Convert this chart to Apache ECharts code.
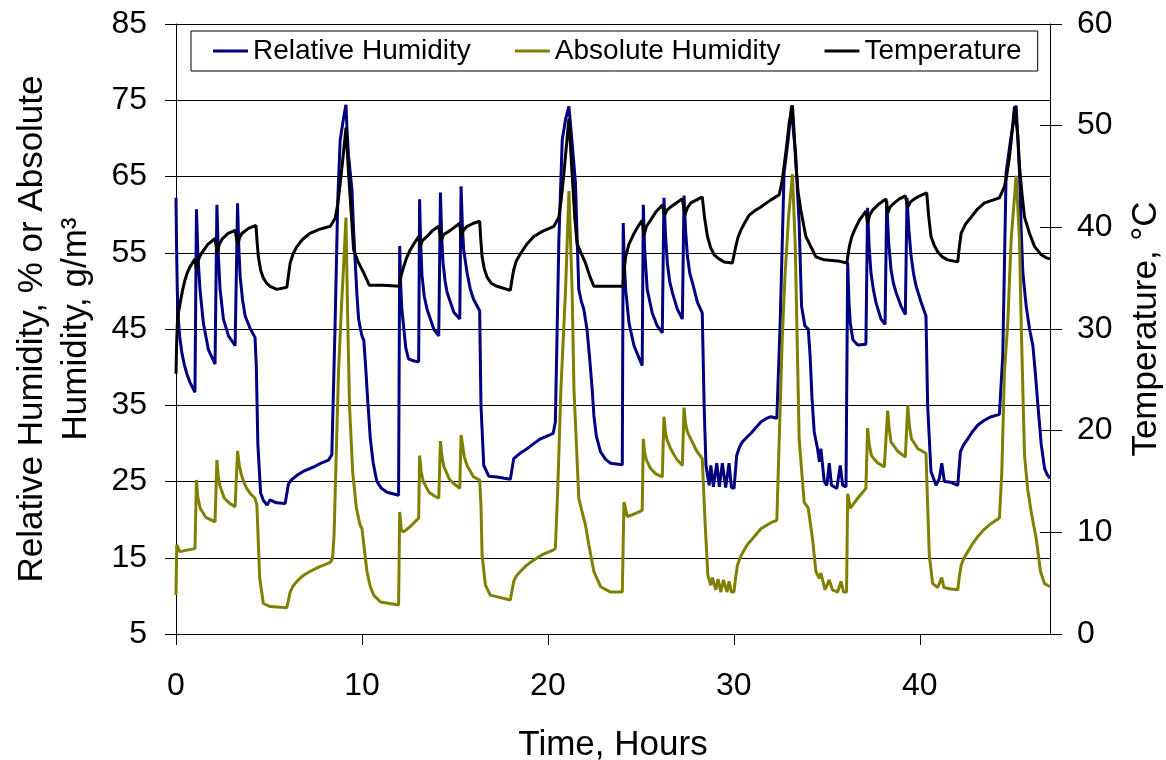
<!DOCTYPE html>
<html>
<head>
<meta charset="utf-8">
<title>Humidity and Temperature</title>
<script src="https://cdn.jsdelivr.net/npm/echarts@6.0.0/dist/echarts.min.js"></script>
<style>
  html, body { margin: 0; padding: 0; background: #fff; }
  #chart { width: 1166px; height: 760px; }
</style>
</head>
<body>
<div id="chart"></div>
<script>
// values: [hours, value]
const relativeHumidity = [
  [0, 62.2], [0.03, 56], [0.07, 50], [0.12, 46.5], [0.2, 44], [0.32, 41.8], [0.45, 40.3], [0.6, 39], [0.75, 38], [1.02, 36.7],
  [1.1, 60.7], [1.18, 54.5], [1.29, 50.2], [1.47, 45.8], [1.74, 42.3], [2.1, 40.4],
  [2.2, 61.3], [2.28, 54.5], [2.37, 50.2], [2.55, 46.3], [2.82, 44.1], [3.18, 42.8],
  [3.31, 61.5], [3.38, 55.5], [3.45, 51.9], [3.58, 48.8], [3.72, 46.7], [4.0, 45], [4.25, 43.9],
  [4.32, 40], [4.4, 30], [4.55, 23.5], [4.7, 22.5], [4.9, 21.9], [5.06, 22.6], [5.4, 22.2], [5.87, 22.1],
  [6.05, 24.7], [6.2, 25.2], [6.5, 25.8], [6.9, 26.4], [7.4, 26.9], [7.8, 27.4], [8.2, 27.8], [8.38, 28.5],
  [8.55, 45], [8.7, 62], [8.83, 69.8], [9.0, 72.5], [9.14, 74.4], [9.2, 71], [9.28, 67.7], [9.37, 65.5], [9.46, 63.3],
  [9.55, 58], [9.64, 53.7], [9.73, 49.5], [9.82, 46.3], [9.92, 45], [10.0, 44.1], [10.1, 43.5], [10.2, 40],
  [10.3, 36], [10.45, 30.6], [10.6, 27.5], [10.8, 25.0], [11.05, 24.1], [11.35, 23.6], [11.97, 23.2],
  [12.03, 55.9], [12.08, 51], [12.14, 47.8], [12.24, 45.3], [12.36, 42.5], [12.5, 41.1], [12.8, 40.8], [13.05, 40.7],
  [13.1, 62.0], [13.16, 56], [13.23, 52], [13.35, 49.3], [13.5, 47.6], [13.86, 45], [14.13, 44.1],
  [14.22, 62.9], [14.29, 57], [14.36, 53.7], [14.47, 51.3], [14.58, 49.8], [14.94, 47.2], [15.26, 46.3],
  [15.33, 63.7], [15.4, 58.5], [15.47, 55.4], [15.65, 52.4], [15.82, 50.3], [16.0, 48.9], [16.33, 47.4],
  [16.4, 35], [16.55, 27.1], [16.82, 25.7], [17.26, 25.6], [17.98, 25.3],
  [18.16, 28.0], [18.5, 28.7], [18.88, 29.3], [19.2, 29.9], [19.6, 30.6], [20.0, 31.0], [20.28, 31.3], [20.4, 32.8],
  [20.59, 56.7], [20.77, 69.8], [20.95, 72.5], [21.13, 74.2], [21.3, 69.4], [21.48, 64.2], [21.57, 57], [21.66, 50.2],
  [21.8, 48.6], [21.93, 47.6], [22.1, 45], [22.25, 41], [22.38, 37.1], [22.47, 33.7], [22.6, 31], [22.83, 28.9],
  [23.1, 27.9], [23.37, 27.4], [24.0, 27.2],
  [24.05, 58.9], [24.11, 53.5], [24.18, 50.2], [24.36, 45.8], [24.63, 42.8], [25.07, 40.2],
  [25.13, 61.3], [25.2, 55.5], [25.34, 50.2], [25.61, 47.1], [25.88, 45.4], [26.15, 44.5],
  [26.24, 62.2], [26.32, 57.5], [26.42, 53.7], [26.55, 51.2], [26.69, 49.8], [26.96, 47.6], [27.23, 46.3],
  [27.32, 62.5], [27.4, 58], [27.5, 54.6], [27.63, 52.3], [27.77, 51.1], [28.04, 48.5], [28.3, 47.1],
  [28.4, 35], [28.5, 27.1], [28.67, 24.5], [28.76, 27.1], [28.9, 24.3], [29.08, 27.4], [29.22, 24.3],
  [29.38, 27.4], [29.56, 24.2], [29.74, 27.4], [29.87, 24.2], [30.01, 24.1],
  [30.15, 28.4], [30.3, 29.5], [30.46, 30.2], [30.7, 30.8], [30.91, 31.3], [31.2, 32.1], [31.45, 32.8],
  [31.7, 33.2], [31.99, 33.5], [32.31, 33.3],
  [32.49, 45.8], [32.7, 65.5], [32.92, 69.8], [33.1, 74.3], [33.2, 71], [33.33, 67.7], [33.42, 63], [33.51, 58.9],
  [33.64, 48], [33.82, 45.4], [34.0, 45], [34.1, 41.5], [34.2, 36], [34.32, 31.5], [34.5, 29.3], [34.6, 27.6],
  [34.68, 29.3], [34.86, 25], [35.0, 24.5], [35.13, 27.4], [35.25, 24.5], [35.54, 24.1], [35.72, 27.1],
  [35.85, 24.5], [36.03, 24.3],
  [36.12, 53.7], [36.19, 48.5], [36.26, 45.8], [36.4, 43.6], [36.66, 42.9], [37.1, 43],
  [37.19, 60.9], [37.27, 56], [37.37, 52.4], [37.5, 50.2], [37.64, 48.5], [37.91, 46.3], [38.13, 45.6],
  [38.22, 61.8], [38.32, 56.5], [38.45, 52.8], [38.58, 51], [38.72, 49.8], [38.99, 48], [39.22, 46.9],
  [39.31, 62.2], [39.41, 58], [39.53, 54.6], [39.66, 52.3], [39.8, 50.6], [40.07, 48.5], [40.33, 46.7],
  [40.42, 35], [40.6, 26.3], [40.87, 24.5], [41.05, 25.4], [41.18, 27.4], [41.32, 25], [41.68, 24.9], [42.04, 24.5],
  [42.18, 28.9], [42.35, 29.8], [42.58, 30.6], [42.85, 31.6], [43.12, 32.4], [43.45, 33.0], [43.84, 33.5], [44.28, 33.8],
  [44.46, 41.5], [44.64, 65.5], [44.88, 69.8], [45.09, 72.9], [45.18, 74.3], [45.27, 70], [45.36, 65.5],
  [45.45, 58], [45.54, 52.4], [45.72, 48], [45.9, 45], [46.08, 42.8], [46.21, 39.3], [46.35, 35],
  [46.53, 29.8], [46.71, 26.7], [46.85, 25.9], [47.0, 25.4]
]

const absoluteHumidity = [
  [0, 10.1], [0.04, 16.7], [0.2, 15.8], [0.6, 16.0], [1.02, 16.2],
  [1.1, 25.2], [1.17, 23], [1.3, 21.5], [1.6, 20.3], [2.1, 19.7],
  [2.2, 27.8], [2.27, 25.8], [2.35, 24.5], [2.6, 22.8], [2.9, 22.1], [3.18, 21.7],
  [3.31, 29.0], [3.4, 27.2], [3.5, 26], [3.65, 24.9], [3.8, 24.1], [4.0, 23.4], [4.25, 22.8],
  [4.35, 21.9], [4.5, 12.3], [4.7, 9.0], [5.06, 8.6], [5.96, 8.45],
  [6.14, 10.5], [6.3, 11.3], [6.5, 11.9], [6.8, 12.6], [7.2, 13.2], [7.7, 13.8], [8.3, 14.4], [8.42, 14.9],
  [8.5, 18], [8.6, 27], [8.74, 39.4], [8.9, 48], [9.05, 55], [9.14, 59.6], [9.22, 48], [9.33, 35], [9.5, 26.3],
  [9.7, 21.5], [9.9, 19.3], [10.0, 18.8], [10.27, 13.2], [10.45, 11.2], [10.63, 10.1], [11.0, 9.2], [11.97, 8.8],
  [12.03, 21.0], [12.12, 18.6], [12.24, 18.4], [12.6, 19.1], [13.05, 20.2],
  [13.1, 28.4], [13.18, 26.3], [13.3, 25], [13.6, 23.6], [13.9, 23.1], [14.13, 22.8],
  [14.22, 30.3], [14.3, 28.3], [14.4, 27], [14.7, 25.3], [15.0, 24.6], [15.26, 24.1],
  [15.33, 31.1], [15.5, 28.3], [15.65, 27.1], [16.0, 25.6], [16.33, 25.2],
  [16.4, 21.9], [16.46, 15.3], [16.64, 11.4], [16.9, 10.1], [17.98, 9.45],
  [18.16, 11.9], [18.3, 12.6], [18.52, 13.2], [18.85, 14.0], [19.24, 14.7], [19.7, 15.4], [20.28, 16.0], [20.4, 16.2],
  [20.53, 24.1], [20.7, 37.2], [20.95, 50.2], [21.13, 63.1], [21.3, 50.2], [21.4, 37.1], [21.66, 22.8],
  [21.84, 21], [22.02, 19.3], [22.2, 16.7], [22.47, 13.2], [22.83, 11.2], [23.37, 10.5], [24.0, 10.5],
  [24.09, 22.3], [24.27, 20.4], [24.7, 20.8], [25.07, 21.2],
  [25.13, 30.6], [25.2, 28.8], [25.3, 27.8], [25.52, 26.7], [25.8, 26.0], [26.15, 25.6],
  [26.24, 33.5], [26.32, 31.5], [26.4, 30.5], [26.6, 29.3], [26.9, 28.0], [27.23, 27.1],
  [27.32, 34.7], [27.4, 32.6], [27.5, 31.5], [27.68, 30.6], [28.0, 29], [28.3, 28],
  [28.45, 19.7], [28.6, 12.7], [28.76, 11.4], [28.85, 12.4], [29.03, 10.8], [29.15, 12.2], [29.3, 10.5],
  [29.44, 12.1], [29.63, 10.5], [29.74, 11.9], [29.87, 10.5], [30.0, 10.5],
  [30.1, 12.5], [30.19, 14.0], [30.35, 15.1], [30.55, 16.0], [30.75, 16.8], [31.0, 17.5], [31.45, 18.8],
  [31.99, 19.6], [32.31, 19.9],
  [32.44, 30.6], [32.6, 43.7], [32.75, 52], [32.95, 60], [33.15, 65.3], [33.3, 56], [33.4, 44], [33.51, 30.6],
  [33.78, 22.3], [34.0, 21.5], [34.23, 17.5], [34.41, 13.2], [34.59, 12.3], [34.68, 13.0], [34.9, 10.8],
  [35.13, 12.1], [35.3, 10.8], [35.58, 10.5], [35.76, 11.9], [35.9, 10.5], [36.06, 10.5],
  [36.12, 23.4], [36.26, 21.5], [36.66, 22.8], [37.1, 24.1],
  [37.19, 32.0], [37.28, 29.8], [37.4, 28.4], [37.7, 27.5], [38.09, 26.9],
  [38.27, 34.3], [38.35, 32], [38.45, 30.2], [38.8, 29], [39.22, 28.2],
  [39.35, 35.0], [39.44, 32.3], [39.55, 30.6], [39.9, 29.3], [40.33, 28.7],
  [40.42, 21.9], [40.51, 15.3], [40.69, 11.6], [40.96, 11.1], [41.18, 12.4], [41.29, 11.1], [41.68, 10.9], [42.04, 10.8],
  [42.12, 12.5], [42.22, 14.0], [42.38, 15], [42.58, 15.8], [42.85, 16.9], [43.12, 17.8], [43.45, 18.7],
  [43.84, 19.5], [44.28, 20.2],
  [44.41, 26.3], [44.55, 39.4], [44.73, 45.8], [44.91, 56.7], [45.18, 65.1], [45.36, 56.7], [45.45, 45.8],
  [45.55, 36], [45.63, 28.4], [45.8, 24], [45.99, 21], [46.26, 17.5], [46.49, 13.2], [46.71, 11.6], [47.0, 11.2]
]

const temperature = [
  [0, 25.6], [0.03, 28.3], [0.07, 30.5], [0.14, 31.7], [0.22, 32.5], [0.35, 33.8], [0.48, 34.8], [0.6, 35.5],
  [0.75, 36.1], [1.02, 36.9], [1.11, 35.8], [1.2, 36.8], [1.35, 37.4], [1.7, 38.3], [2.1, 38.9], [2.22, 37.4],
  [2.32, 38.3], [2.5, 38.9], [2.8, 39.4], [3.18, 39.7], [3.32, 38.3], [3.42, 39.0], [3.54, 39.4], [3.9, 39.9], [4.3, 40.2],
  [4.36, 38.6], [4.43, 37.1], [4.55, 35.8], [4.7, 35.0], [4.88, 34.5], [5.06, 34.2], [5.42, 33.9], [5.96, 34.1],
  [6.05, 35.3], [6.14, 36.5], [6.3, 37.4], [6.5, 38.1], [6.8, 38.8], [7.2, 39.4], [7.7, 39.8], [8.3, 40.1],
  [8.56, 40.9], [8.7, 42.3], [8.83, 44.3], [9.0, 47.2], [9.14, 49.8],
  [9.28, 45.3], [9.46, 40.4], [9.55, 37.8], [9.82, 36.5], [10.1, 35.5], [10.4, 34.3], [11.15, 34.3], [12.03, 34.2],
  [12.1, 35.2], [12.24, 36.1], [12.4, 37.0], [12.6, 37.8], [12.8, 38.4], [13.05, 39.1], [13.14, 38.1],
  [13.25, 38.7], [13.5, 39.1], [13.8, 39.7], [14.13, 40.1], [14.25, 38.7], [14.4, 39.3],
  [14.75, 39.7], [15.26, 40.4], [15.33, 39.0], [15.45, 39.7], [15.65, 40.1], [16.0, 40.4], [16.33, 40.6],
  [16.39, 38.8], [16.46, 37.1], [16.58, 35.9], [16.73, 35.1], [16.95, 34.5], [17.26, 34.2], [17.98, 33.8],
  [18.06, 34.8], [18.16, 35.8], [18.3, 36.7], [18.52, 37.4], [18.85, 38.3], [19.24, 39.1], [19.7, 39.6], [20.32, 40.1],
  [20.59, 41.0], [20.72, 42.8], [20.86, 45.3], [21.0, 48.1], [21.13, 50.7],
  [21.3, 45.3], [21.45, 40.8], [21.57, 38.4], [21.8, 37.4], [22.02, 36.5], [22.25, 35.2], [22.47, 34.2],
  [22.83, 34.2], [24.03, 34.2],
  [24.1, 35.8], [24.18, 37.1], [24.35, 38.3], [24.63, 39.4], [24.85, 40.1], [25.07, 40.7], [25.16, 39.2],
  [25.3, 40.1], [25.52, 40.7], [25.8, 41.5], [26.15, 42.2], [26.27, 41.2], [26.4, 41.7],
  [26.6, 42.0], [26.9, 42.4], [27.23, 42.8], [27.36, 41.2], [27.5, 41.9], [27.68, 42.4], [28.0, 42.7], [28.3, 43.0],
  [28.42, 41.0], [28.58, 39.1], [28.75, 38.0], [28.94, 37.3], [29.2, 36.9], [29.47, 36.6], [29.92, 36.5],
  [30.0, 37.2], [30.1, 38.1], [30.22, 39.0], [30.37, 39.7], [30.6, 40.5], [30.82, 41.2], [31.1, 41.6], [31.45, 42.0],
  [31.99, 42.7], [32.44, 43.2],
  [32.58, 44.4], [32.7, 46], [32.85, 48.2], [32.97, 50.2], [33.15, 52.0], [33.25, 49], [33.33, 46.3],
  [33.45, 43.5], [33.6, 41.7], [33.87, 39.1], [34.14, 38.1], [34.41, 37.1], [34.86, 36.8], [35.58, 36.7], [36.08, 36.5],
  [36.14, 37.3], [36.21, 38.1], [36.33, 39.0], [36.48, 39.7], [36.75, 40.7], [37.1, 41.6], [37.19, 40.4],
  [37.3, 41.2], [37.46, 41.7], [37.8, 42.3], [38.18, 42.8], [38.27, 41.4], [38.4, 42.0],
  [38.63, 42.4], [38.9, 42.8], [39.22, 43.1], [39.35, 42.0], [39.5, 42.5], [39.71, 42.8], [40.0, 43.1], [40.37, 43.4],
  [40.47, 41.2], [40.6, 39.1], [40.78, 38.2], [40.96, 37.6], [41.2, 37.1], [41.5, 36.8], [42.04, 36.6],
  [42.12, 38.0], [42.22, 39.4], [42.45, 40.3], [42.76, 41.0], [43.1, 41.8], [43.48, 42.4], [44.28, 42.9],
  [44.55, 44.0], [44.68, 45.2], [44.82, 46.9], [44.95, 49.2], [45.09, 51.9],
  [45.18, 52.0], [45.27, 49], [45.36, 46.0], [45.5, 43.2], [45.63, 41.0], [45.9, 39.4], [46.17, 38.1],
  [46.53, 37.3], [46.8, 37.0], [47.0, 36.9]
]

const hourTicks = [0, 10, 20, 30, 40]
const fontFamily = '"Liberation Sans", Arial, sans-serif'

const chart = echarts.init(document.getElementById('chart'))

const option = {
  animation: false,
  backgroundColor: '#fff',
  textStyle: { fontFamily: fontFamily, color: '#000' },
  grid: { left: 176, right: 116, top: 24, bottom: 126, containLabel: false, outerBoundsMode: 'none' },
  legend: {
    left: 191,
    top: 31,
    padding: [6, 16, 6, 22],
    itemGap: 44,
    itemWidth: 35,
    itemHeight: 3,
    icon: 'rect',
    borderColor: '#000',
    borderWidth: 1,
    backgroundColor: '#fff',
    textStyle: { fontSize: 28, color: '#000', fontFamily: fontFamily },
    data: ['Relative Humidity', 'Absolute Humidity', 'Temperature']
  },
  xAxis: {
    type: 'value',
    min: 0,
    max: 47,
    interval: 10,
    name: 'Time, Hours',
    nameLocation: 'middle',
    nameGap: 94,
    nameTextStyle: { fontSize: 35, color: '#000', fontFamily: fontFamily },
    axisLine: { lineStyle: { color: '#000', width: 1 } },
    axisTick: { length: 11, lineStyle: { color: '#000' }, customValues: hourTicks },
    axisLabel: { fontSize: 32, color: '#000', margin: 36, customValues: hourTicks },
    splitLine: { show: false }
  },
  yAxis: [
    {
      type: 'value',
      min: 5,
      max: 85,
      interval: 10,
      name: 'Relative Humidity, % or Absolute\nHumidity, g/m³',
      nameLocation: 'middle',
      nameRotate: 90,
      nameGap: 78,
      nameTextStyle: { fontSize: 35, lineHeight: 44, color: '#000', fontFamily: fontFamily },
      axisLine: { show: true, lineStyle: { color: '#000', width: 1 } },
      axisTick: { show: true, length: 11, lineStyle: { color: '#000' } },
      axisLabel: { fontSize: 32, color: '#000', margin: 29 },
      splitLine: { show: true, lineStyle: { color: '#000', width: 1 } }
    },
    {
      type: 'value',
      min: 0,
      max: 60,
      interval: 10,
      position: 'right',
      name: 'Temperature, °C',
      nameLocation: 'middle',
      nameRotate: 90,
      nameGap: 79,
      nameTextStyle: { fontSize: 35, color: '#000', fontFamily: fontFamily },
      axisLine: { show: true, lineStyle: { color: '#000', width: 1 } },
      axisTick: { show: true, length: 12, lineStyle: { color: '#000' } },
      axisLabel: { fontSize: 32, color: '#000', margin: 27 },
      splitLine: { show: false }
    },
    {
      // inner half of the crossing tick marks on the temperature axis
      type: 'value',
      min: 0,
      max: 60,
      interval: 10,
      position: 'right',
      axisLine: { show: false },
      axisTick: { show: true, inside: true, length: 10, lineStyle: { color: '#000' } },
      axisLabel: { show: false },
      splitLine: { show: false }
    }
  ],
  series: [
    {
      name: 'Relative Humidity',
      type: 'line',
      data: relativeHumidity,
      showSymbol: false,
      symbol: 'none',
      itemStyle: { color: '#000080' },
      lineStyle: { color: '#000080', width: 3 }
    },
    {
      name: 'Absolute Humidity',
      type: 'line',
      data: absoluteHumidity,
      showSymbol: false,
      symbol: 'none',
      itemStyle: { color: '#808000' },
      lineStyle: { color: '#808000', width: 3 }
    },
    {
      name: 'Temperature',
      type: 'line',
      yAxisIndex: 1,
      data: temperature,
      showSymbol: false,
      symbol: 'none',
      itemStyle: { color: '#000' },
      lineStyle: { color: '#000', width: 3 }
    }
  ]
}

chart.setOption(option)
</script>
</body>
</html>
